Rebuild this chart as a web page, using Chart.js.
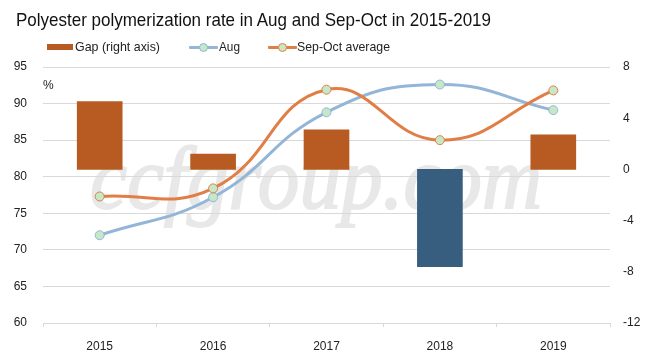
<!DOCTYPE html>
<html>
<head>
<meta charset="utf-8">
<script src="https://cdn.jsdelivr.net/npm/chart.js@4/dist/chart.umd.min.js"></script>
<style>
  html, body { margin:0; padding:0; background:#fff; }
  #wrap { position:relative; width:663px; height:364px; overflow:hidden; }
  #c { position:absolute; left:0; top:0; }
  .t { position:absolute; white-space:nowrap; font-family:"Liberation Sans", Arial, sans-serif; transform-origin:0 50%; }
  .mk { position:absolute; }
</style>
</head>
<body>
<div id="wrap">
  <canvas id="c" width="663" height="364"></canvas>
  <div class="t fit" data-w="475" style="left:16px;top:9px;font-size:19px;line-height:21px;color:#111;">Polyester polymerization rate in Aug and Sep-Oct in 2015-2019</div>

  <div class="mk" style="left:47px;top:44px;width:26px;height:6px;background:#B85B23;"></div>
  <div class="t fit" data-w="85" style="left:75px;top:39px;font-size:13px;line-height:16px;color:#222;">Gap (right axis)</div>

  <div class="mk" style="left:189px;top:45.5px;width:29px;height:3px;background:#93B6D8;border-radius:1px;"></div>
  <div class="mk" style="left:199px;top:42.5px;width:7px;height:7px;border-radius:50%;background:#C6E8C6;border:1px solid #93B6D8;"></div>
  <div class="t fit" data-w="21" style="left:219px;top:39px;font-size:13px;line-height:16px;color:#222;">Aug</div>

  <div class="mk" style="left:268px;top:45.5px;width:29px;height:3px;background:#E07E45;border-radius:1px;"></div>
  <div class="mk" style="left:278px;top:42.5px;width:7px;height:7px;border-radius:50%;background:#C6E8C6;border:1px solid #E07E45;"></div>
  <div class="t fit" data-w="93" style="left:297px;top:39px;font-size:13px;line-height:16px;color:#222;">Sep-Oct average</div>

  <div class="t" style="left:43px;top:78px;font-size:12px;line-height:15px;color:#222;">%</div>
</div>
<script>
// ---- data ----
const categories = ['2015', '2016', '2017', '2018', '2019'];
const augRate    = [72.0, 77.2, 88.8, 92.6, 89.1];
const sepOctAvg  = [77.3, 78.4, 91.9, 85.0, 91.8];
const gapValues  = [5.3, 1.2, 3.1, -7.6, 2.7];
const leftTicks  = [60, 65, 70, 75, 80, 85, 90, 95];
const rightTicks = [-12, -8, -4, 0, 4, 8];
const watermark  = 'ccfgroup.com';

// fit HTML text widths
document.querySelectorAll('.fit').forEach(el => {
  const target = parseFloat(el.dataset.w);
  const w = el.getBoundingClientRect().width;
  if (w > 0) el.style.transform = 'scaleX(' + (target / w) + ')';
});

const POS = '#B85B23', NEG = '#375E7F';
const tickFont = { family: '"Liberation Sans", Arial, sans-serif', size: 12 };

const watermarkPlugin = {
  id: 'wm',
  beforeDraw(chart) {
    const ctx = chart.ctx;
    ctx.save();
    ctx.font = 'italic 89px "Liberation Serif", serif';
    const w = ctx.measureText(watermark).width;
    ctx.translate(90, 208);
    ctx.scale(452 / w, 1);
    ctx.fillStyle = '#e8e8e8';
    ctx.strokeStyle = '#e8e8e8';
    ctx.lineWidth = 2;
    ctx.textBaseline = 'alphabetic';
    ctx.fillText(watermark, 0, 0);
    ctx.strokeText(watermark, 0, 0);
    ctx.restore();
  }
};

new Chart(document.getElementById('c'), {
  type: 'bar',
  data: {
    labels: categories,
    datasets: [
      {
        type: 'line', label: 'Sep-Oct average', data: sepOctAvg, yAxisID: 'y', order: 0,
        borderColor: '#E07E45', borderWidth: 3, tension: 0.45,
        pointRadius: 4.5, pointBackgroundColor: '#C6E8C6', pointBorderColor: '#E07E45', pointBorderWidth: 1
      },
      {
        type: 'line', label: 'Aug', data: augRate, yAxisID: 'y', order: 1,
        borderColor: '#93B6D8', borderWidth: 3, tension: 0.45,
        pointRadius: 4.5, pointBackgroundColor: '#C6E8C6', pointBorderColor: '#93B6D8', pointBorderWidth: 1
      },
      {
        type: 'bar', label: 'Gap (right axis)', data: gapValues, yAxisID: 'y1', order: 2,
        backgroundColor: gapValues.map(v => v < 0 ? NEG : POS), barThickness: 45
      }
    ]
  },
  options: {
    responsive: false, animation: false, devicePixelRatio: 1,
    layout: { padding: { top: 67, left: 0, right: 0, bottom: 0 } },
    plugins: { legend: { display: false }, title: { display: false }, tooltip: { enabled: false } },
    scales: {
      x: {
        offset: true,
        grid: { display: true, offset: true, drawOnChartArea: false, drawTicks: true, tickLength: 4, color: '#d9d9d9' },
        border: { display: true, color: '#d9d9d9' },
        ticks: { font: tickFont, color: '#222', padding: 12, maxRotation: 0 },
        afterFit(s) { s.height = 41; }
      },
      y: {
        position: 'left', min: leftTicks[0], max: leftTicks[leftTicks.length - 1],
        ticks: { stepSize: leftTicks[1] - leftTicks[0], font: tickFont, color: '#222', padding: 16 },
        grid: { color: '#d9d9d9', drawTicks: false },
        border: { display: false },
        afterFit(s) { s.width = 43; }
      },
      y1: {
        position: 'right', min: rightTicks[0], max: rightTicks[rightTicks.length - 1],
        ticks: { stepSize: rightTicks[1] - rightTicks[0], font: tickFont, color: '#222', padding: 13 },
        grid: { display: false, drawTicks: false },
        border: { display: false },
        afterFit(s) { s.width = 53; }
      }
    }
  },
  plugins: [watermarkPlugin]
});
</script>
</body>
</html>
